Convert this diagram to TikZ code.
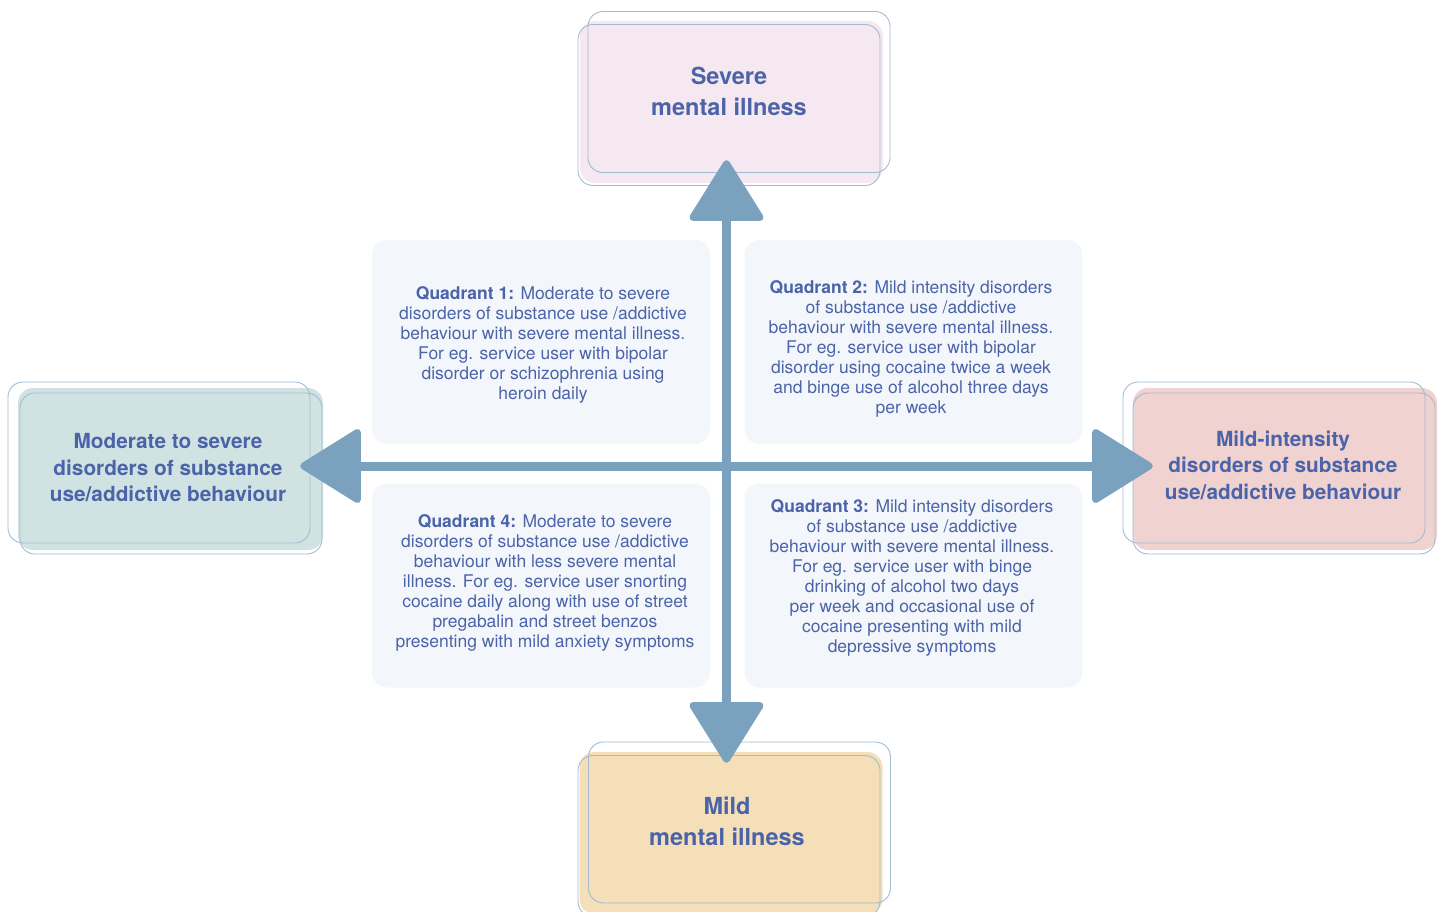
\documentclass[tikz,border=0pt]{standalone}
\usepackage{fontspec}
\setmainfont{TeX Gyre Heros}
\usepackage{xcolor}
\usetikzlibrary{arrows.meta}
\definecolor{txtblue}{RGB}{75, 99, 168}
\definecolor{arrblue}{RGB}{122, 161, 190}
\definecolor{edgeblue}{RGB}{160, 188, 210}
\definecolor{pinkfill}{RGB}{245, 232, 240}
\definecolor{tealfill}{RGB}{208, 227, 226}
\definecolor{rosefill}{RGB}{240, 210, 208}
\definecolor{sandfill}{RGB}{244, 223, 185}
\definecolor{quadfill}{RGB}{243, 247, 251}

\begin{document}
\begin{tikzpicture}[x=1pt, y=-1pt,
    bigbox/.style={rounded corners=15pt, minimum width=303pt, minimum height=162pt, inner sep=0pt},
    edgebox/.style={draw=edgeblue, line width=0.9pt, rounded corners=15pt, minimum width=302pt, minimum height=161pt, inner sep=0pt},
    quad/.style={fill=quadfill, rounded corners=15pt, minimum width=338pt, minimum height=204pt, inner sep=0pt},
    quadtext/.style={txtblue, align=center, font=\fontsize{17.5}{19.9}\selectfont},
    sidetitle/.style={txtblue, align=center, font=\bfseries\fontsize{20.8}{26.5}\selectfont},
    toptitle/.style={txtblue, align=center, font=\bfseries\fontsize{23.5}{31}\selectfont},
    axis/.style={arrblue, line width=9pt, -{Triangle[length=64pt, width=78pt, round, line width=7pt]}}]
    \useasboundingbox (0,0) rectangle (1443,912);

    % quadrant panels
    \node[quad] (q1) at (541,342) {};
    \node[quad] (q2) at (913.5,342) {};
    \node[quad] (q3) at (913.5,585.5) {};
    \node[quad] (q4) at (541,585.5) {};
    \node[quadtext] (q1text) at (543,345) {\textbf{Quadrant 1:} Moderate to severe\\disorders of substance use /addictive\\behaviour with severe mental illness.\\For eg. service user with bipolar\\disorder or schizophrenia using\\heroin daily};
    \node[quadtext] (q2text) at (911,349) {\textbf{Quadrant 2:} Mild intensity disorders\\of substance use /addictive\\behaviour with severe mental illness.\\For eg. service user with bipolar\\disorder using cocaine twice a week\\and binge use of alcohol three days\\per week};
    \node[quadtext] (q3text) at (912,578) {\textbf{Quadrant 3:} Mild intensity disorders\\of substance use /addictive\\behaviour with severe mental illness.\\For eg. service user with binge\\drinking of alcohol two days\\per week and occasional use of\\cocaine presenting with mild\\depressive symptoms};
    \node[quadtext] (q4text) at (545,583) {\textbf{Quadrant 4:} Moderate to severe\\disorders of substance use /addictive\\behaviour with less severe mental\\illness. For eg. service user snorting\\cocaine daily along with use of street\\pregabalin and street benzos\\presenting with mild anxiety symptoms};

    % top box
    \node[bigbox, fill=pinkfill] (severe) at (731.5,102) {};
    \node[edgebox] (severeA) at (729,105) {};
    \node[edgebox] (severeB) at (739,92) {};
    \node[toptitle] (severetext) at (729,91) {Severe\\mental illness};

    % bottom box
    \node[bigbox, fill=sandfill] (mild) at (731,833) {};
    \node[edgebox] (mildA) at (729,836) {};
    \node[edgebox] (mildB) at (739.5,822.5) {};
    \node[toptitle] (mildtext) at (727,821) {Mild\\mental illness};

    % left box
    \node[bigbox, fill=tealfill, minimum width=305pt] (modsev) at (170.5,469) {};
    \node[edgebox] (modsevA) at (159,462.5) {};
    \node[edgebox] (modsevB) at (171,473.5) {};
    \node[sidetitle] (modsevtext) at (168,468) {Moderate to severe\\disorders of substance\\use/addictive behaviour};

    % right box
    \node[bigbox, fill=rosefill, minimum width=304pt] (mildint) at (1285,469) {};
    \node[edgebox] (mildintA) at (1274,462.5) {};
    \node[edgebox] (mildintB) at (1284,473.5) {};
    \node[sidetitle] (mildinttext) at (1283,465) {Mild-intensity\\disorders of substance\\use/addictive behaviour};

    % axes
    \coordinate (c) at (726.5,466);
    \draw[axis, shorten >=-23pt] (c) -- (c |- severe.south);
    \draw[axis, shorten >=-11pt] (c) -- (c |- mild.north);
    \draw[axis, shorten >=-23pt] (c) -- (c -| modsev.east);
    \draw[axis, shorten >=-20pt] (c) -- (c -| mildint.west);
\end{tikzpicture}
\end{document}
